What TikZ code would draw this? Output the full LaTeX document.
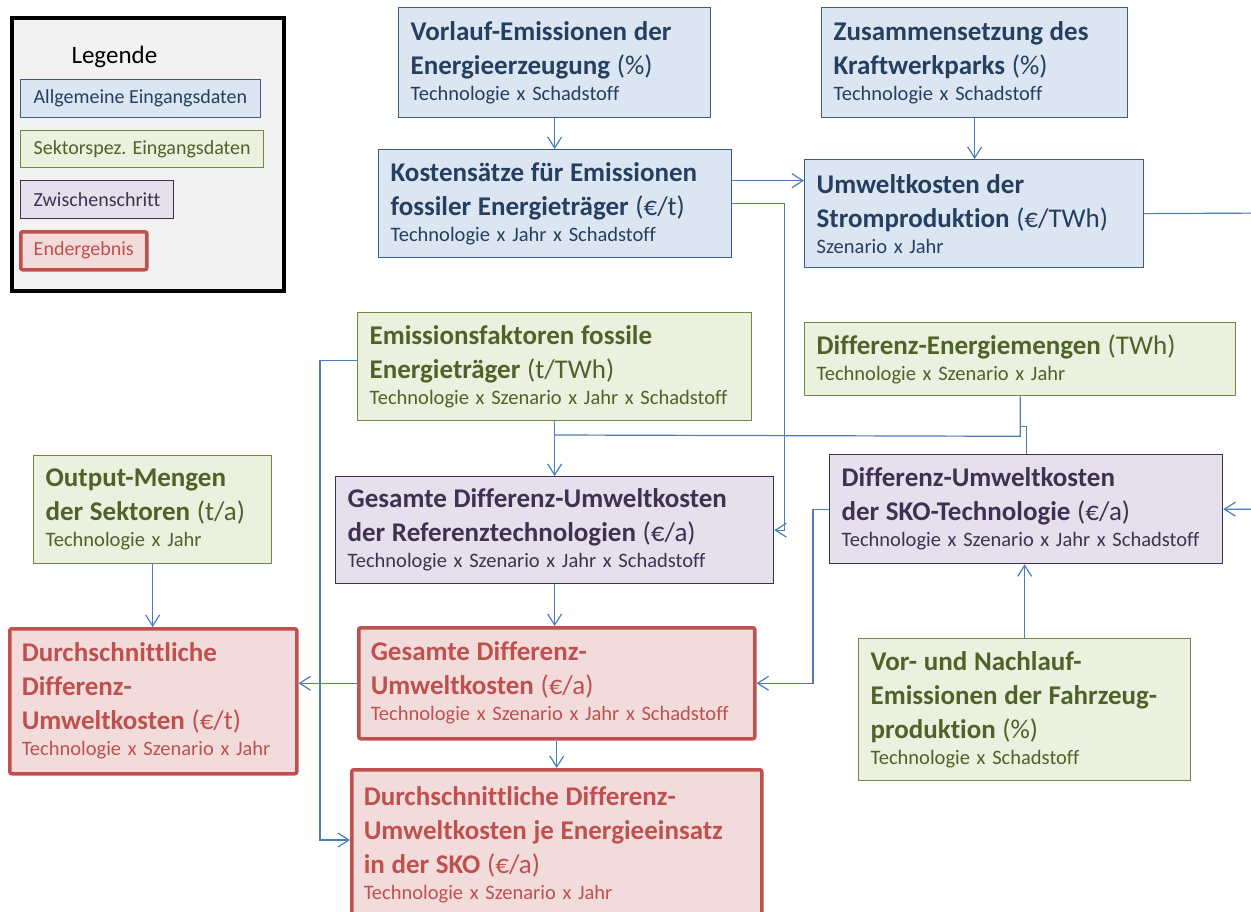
\documentclass[tikz,border=0pt]{standalone}
\usepackage{fontspec}
\setmainfont{Carlito}[Ligatures=NoCommon]
\usetikzlibrary{arrows.meta}
\tikzset{>={Straight Barb[length=11pt,width=14pt]}}

\definecolor{blueFill}{HTML}{DCE6F2}
\definecolor{blueLine}{HTML}{385D8A}
\definecolor{blueText}{HTML}{243F60}
\definecolor{greenFill}{HTML}{EBF1DE}
\definecolor{greenLine}{HTML}{71893F}
\definecolor{greenText}{HTML}{4F6228}
\definecolor{purpleFill}{HTML}{E5E0EC}
\definecolor{purpleLine}{HTML}{3F3151}
\definecolor{purpleText}{HTML}{3F3151}
\definecolor{redFill}{HTML}{F2DCDB}
\definecolor{redLine}{HTML}{C0504D}
\definecolor{redText}{HTML}{C0504D}
\definecolor{arrowBlue}{HTML}{4A7EBB}
\definecolor{legendGray}{HTML}{F2F2F2}

% title in bold, unit in regular weight, dimensions in a smaller line
\newcommand{\kastentext}[2]{{\fontsize{27}{34}\selectfont\bfseries #1\par}{\fontsize{20.5}{26}\selectfont #2\par}}
\newcommand{\einheit}[1]{{\mdseries #1}}

\begin{document}
\begin{tikzpicture}[x=1pt,y=-1pt,font=\fontsize{20}{24}\selectfont]
\tikzstyle{kasten}=[anchor=north west,inner xsep=12pt,inner ysep=0pt,align=left,line width=1.3pt]
\tikzstyle{allg}=[kasten,draw=blueLine,fill=blueFill,text=blueText]
\tikzstyle{sektor}=[kasten,draw=greenLine,fill=greenFill,text=greenText]
\tikzstyle{zwischen}=[kasten,draw=purpleLine,fill=purpleFill,text=purpleText]
\tikzstyle{ergebnis}=[kasten,draw=redLine,fill=redFill,text=redText,line width=3.5pt,rounded corners=2pt]
\tikzstyle{pfeil}=[draw=arrowBlue,line width=1.2pt]

\useasboundingbox (0,0) rectangle (1251,911);
\clip (0,0) rectangle (1251,911);

% legend
\node[anchor=north west,draw=black,line width=4pt,fill=legendGray,minimum width=272pt,minimum height=273pt] (legende) at (10,16) {};
\node[anchor=base west,font=\fontsize{25}{30}\selectfont] (legtitel) at (68,63) {Legende};
\node[allg,inner xsep=13pt,minimum height=38pt] (legallg) at (20,79) {Allgemeine Eingangsdaten};
\node[sektor,inner xsep=13pt,minimum height=37pt] (legsektor) at (20,130) {Sektorspez. Eingangsdaten};
\node[zwischen,inner xsep=13pt,minimum height=38pt] (legzwischen) at (20,180) {Zwischenschritt};
\node[ergebnis,inner xsep=13pt,minimum height=38pt] (legergebnis) at (19,230) {Endergebnis};

% general input data
\node[allg,text width=288pt,minimum height=110pt] (vorlauf) at (398,7)
  {\kastentext{Vorlauf-Emissionen der\\Energieerzeugung \einheit{(\%)}}{Technologie x Schadstoff}};
\node[allg,text width=282pt,minimum height=110pt] (kraftwerk) at (821,7)
  {\kastentext{Zusammensetzung des\\Kraftwerkparks \einheit{(\%)}}{Technologie x Schadstoff}};
\node[allg,text width=329pt,minimum height=108pt] (kostensatz) at (378,149)
  {\kastentext{Kostensätze für Emissionen\\fossiler Energieträger \einheit{(€/t)}}{Technologie x Jahr x Schadstoff}};
\node[allg,text width=315pt,minimum height=108pt] (strom) at (804,159)
  {\kastentext{Umweltkosten der\\Stromproduktion \einheit{(€/TWh)}}{Szenario x Jahr}};

% sector specific input data
\node[sektor,text width=370pt,minimum height=108pt] (emfaktor) at (357,312)
  {\kastentext{Emissionsfaktoren fossile\\Energieträger \einheit{(t/TWh)}}{Technologie x Szenario x Jahr x Schadstoff}};
\node[sektor,text width=407pt,minimum height=73pt] (energie) at (804,322)
  {\kastentext{Differenz-Energiemengen \einheit{(TWh)}}{Technologie x Szenario x Jahr}};
\node[sektor,text width=214pt,minimum height=108pt] (output) at (33,455)
  {\kastentext{Output-Mengen\\der Sektoren \einheit{(t/a)}}{Technologie x Jahr}};
\node[sektor,text width=308pt,minimum height=142pt] (fahrzeug) at (858,638)
  {\kastentext{Vor- und Nachlauf-\\Emissionen der Fahrzeug-\\produktion \einheit{(\%)}}{Technologie x Schadstoff}};

% intermediate steps
\node[zwischen,text width=414pt,minimum height=107pt] (refkosten) at (335,476)
  {\kastentext{Gesamte Differenz-Umweltkosten\\der Referenztechnologien \einheit{(€/a)}}{Technologie x Szenario x Jahr x Schadstoff}};
\node[zwischen,text width=369pt,minimum height=109pt] (skokosten) at (829,454)
  {\kastentext{Differenz-Umweltkosten\\der SKO-Technologie \einheit{(€/a)}}{Technologie x Szenario x Jahr x Schadstoff}};

% results
\node[ergebnis,text width=263pt,minimum height=145pt] (durchschnitt) at (8,627)
  {\kastentext{Durchschnittliche\\Differenz-\\Umweltkosten \einheit{(€/t)}}{Technologie x Szenario x Jahr}};
\node[ergebnis,text width=372pt,minimum height=111pt] (gesamt) at (357,626)
  {\kastentext{Gesamte Differenz-\\Umweltkosten \einheit{(€/a)}}{Technologie x Szenario x Jahr x Schadstoff}};
\node[ergebnis,text width=386pt,minimum height=150pt] (einsatz) at (350,768)
  {\kastentext{Durchschnittliche Differenz-\\Umweltkosten je Energieeinsatz\\in der SKO \einheit{(€/a)}}{Technologie x Szenario x Jahr}};

% connectors
\draw[pfeil,->] (vorlauf.south) -- (vorlauf.south |- kostensatz.north);
\draw[pfeil,->] (kraftwerk.south) -- (kraftwerk.south |- strom.north);
\draw[pfeil,->] ([yshift=23pt]kostensatz.east) coordinate (k1) -- (k1 -| strom.west);
\draw[pfeil,->] (kostensatz.east) -- ++(52,0) |- (refkosten.east);
\draw[pfeil,->] (strom.east) -- (1270,213) |- (skokosten.east);
\draw[pfeil,->] (emfaktor.south) -- (refkosten.north);
\draw[pfeil] (energie.south) -- ++(0,40) -- (emfaktor.south |- 0,435);
\draw[pfeil] ([yshift=-30pt]energie.south) -| (skokosten.north);
\draw[pfeil,->] ([yshift=6pt]emfaktor.west) -- ++(-37,0) |- ([yshift=-72pt]einsatz.north west);
\draw[pfeil,->] (output.south) -- (output.south |- durchschnitt.north);
\draw[pfeil,->] (refkosten.south) -- (refkosten.south |- gesamt.north);
\draw[pfeil,->] (skokosten.west) -- ++(-16,0) |- (gesamt.east);
\draw[pfeil,->] (gesamt.south) -- (gesamt.south |- einsatz.north);
\draw[pfeil,->] (fahrzeug.north) -- (fahrzeug.north |- skokosten.south);
\draw[pfeil,->] (gesamt.west) -- (gesamt.west -| durchschnitt.east);

\end{tikzpicture}
\end{document}
